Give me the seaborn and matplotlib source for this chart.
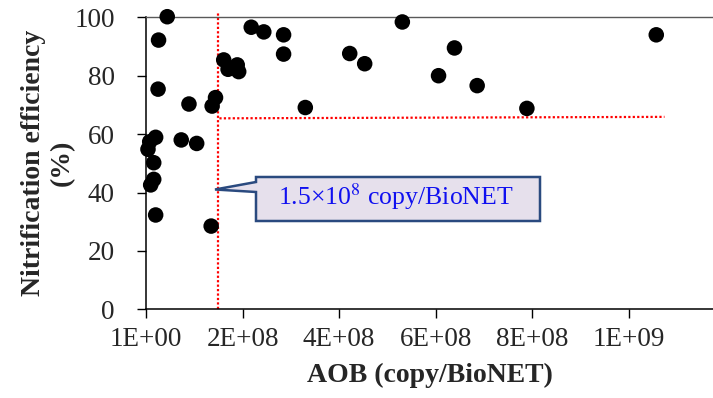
import matplotlib
matplotlib.use("Agg")
import matplotlib.pyplot as plt
import seaborn as sns
import pandas as pd
from matplotlib.patches import Polygon

# ---- data ----
aob = [4.4e7, 2.6e7, 1.61e8, 1.70e8, 1.89e8, 1.92e8, 2.5e7, 8.9e7, 1.44e8, 1.37e8,
       2.0e7, 7.7e6, 4.1e6, 7.3e7, 1.05e8, 1.6e7, 1.6e7, 9.7e6, 2.0e7, 1.35e8,
       2.18e8, 2.44e8, 2.85e8, 2.85e8, 4.22e8, 4.53e8, 5.31e8, 6.39e8, 6.06e8,
       6.86e8, 3.30e8, 7.89e8, 1.057e9]
efficiency = [100.2, 92.2, 85.4, 82.2, 83.7, 81.4, 75.4, 70.3, 72.5, 69.6,
              58.9, 57.4, 54.8, 58.0, 56.8, 50.2, 44.5, 42.6, 32.3, 28.5,
              96.6, 95.0, 94.0, 87.4, 87.6, 84.1, 98.4, 89.5, 80.0,
              76.6, 69.1, 68.8, 94.0]
x_ticks = [0, 2e8, 4e8, 6e8, 8e8, 1e9]
x_tick_labels = ["1E+00", "2E+08", "4E+08", "6E+08", "8E+08", "1E+09"]
y_ticks = [0, 20, 40, 60, 80, 100]
threshold_x = 1.5e8
threshold_line_x = [1.52e8, 1.074e9]
threshold_line_y = [65.4, 65.9]
vline_y = [0, 101.6]

df = pd.DataFrame({"AOB": aob, "Eff": efficiency})

sns.set_theme(style="white")
plt.rcParams["font.family"] = ["Liberation Serif", "DejaVu Serif"]
plt.rcParams["mathtext.fontset"] = "stix"

W, H = 713, 398
fig = plt.figure(figsize=(W / 100, H / 100), dpi=100)
x0, y0, x1, y1 = 146, 309.3, 713, 17.3
ax = fig.add_axes([x0 / W, (H - y0) / H, (x1 - x0) / W, (y0 - y1) / H])

sns.scatterplot(data=df, x="AOB", y="Eff", ax=ax, color="black", s=125,
                edgecolor="none", linewidth=0, zorder=3, clip_on=False, legend=False)

ax.plot([threshold_x, threshold_x], vline_y, color="#FF0000", lw=1.6,
        ls=(0, (1, 1)), clip_on=False, zorder=2)
ax.plot(threshold_line_x, threshold_line_y, color="#FF0000", lw=1.6,
        ls=(0, (1, 1)), clip_on=False, zorder=2)

ax.set_xlim(0, (x1 - x0) / 96.55 * 2e8)
ax.set_ylim(0, 100)
ax.set_xticks(x_ticks)
ax.set_xticklabels(x_tick_labels)
ax.set_yticks(y_ticks)

for s in ["left", "bottom"]:
    ax.spines[s].set_color("black")
    ax.spines[s].set_linewidth(1.1)
ax.spines["top"].set_color("#595959")
ax.spines["top"].set_linewidth(1.0)
ax.spines["right"].set_visible(False)

ax.tick_params(axis="y", which="major", direction="out", length=6.5, width=1.0,
               color="black", labelsize=19.5, pad=16, left=True)
ax.tick_params(axis="x", which="major", direction="out", length=6.5, width=1.0,
               color="black", labelsize=19.5, pad=6, bottom=True)

ax.set_xlabel("AOB (copy/BioNET)", fontsize=20, fontweight="bold")
ax.set_ylabel("Nitrification efficiency\n(%)", fontsize=20, fontweight="bold",
              linespacing=1.2)
ax.xaxis.set_label_coords(0.5, (y0 - 363) / (y0 - y1))
ax.yaxis.set_label_coords((75 - x0) / (x1 - x0), 0.5)

# callout box
pts = [(256, 177), (540, 177), (540, 221), (256, 221), (256, 192), (215, 189.5), (256, 182)]
poly = Polygon([(px / W, (H - py) / H) for px, py in pts], closed=True,
               transform=fig.transFigure, facecolor="#E6E0EC", edgecolor="#2A4A7F",
               linewidth=1.8, zorder=5)
fig.add_artist(poly)
fig.text(396 / W, (H - 197) / H, r"1.5×10$^{8}$ copy/BioNET", color="#1010F0",
         fontsize=18.5, ha="center", va="center", zorder=6)

fig.savefig("out.png", dpi=100)
